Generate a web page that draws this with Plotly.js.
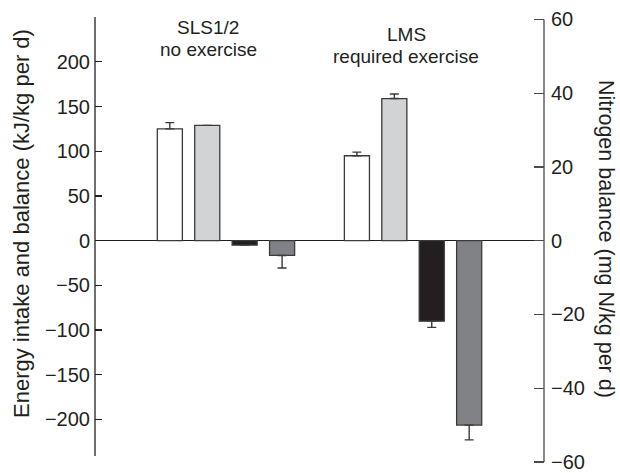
<!DOCTYPE html>
<html>
<head>
<meta charset="utf-8">
<script src="https://cdn.plot.ly/plotly-3.0.1.min.js"></script>
<style>html,body{margin:0;padding:0;background:#fff}</style>
</head>
<body>
<div id="chart" style="width:620px;height:473px"></div>
<script>
// Two study conditions, four bars each; bars sit in unit slots on a hidden x axis
const groupNames = ['SLS1/2', 'LMS'];
const groupNotes = ['no exercise', 'required exercise'];
const groupSlots = [0, 5];

// Energy values, kJ/kg per d (left axis)
const energyIntake = [125, 95];
const energyIntakeErr = [7, 4];
const energyOut = [129, 159];
const energyOutErr = [0, 5];
const energyBalance = [-5, -90];
const energyBalanceErr = [0, 7];

// Nitrogen balance, mg N/kg per d (right axis)
const nitrogenBalance = [-4, -50];
const nitrogenBalanceErr = [3.4, 4];

const leftTicks = [-200, -150, -100, -50, 0, 50, 100, 150, 200];
const rightTicks = [-60, -40, -20, 0, 20, 40, 60];

const ink = '#231f20';
const edge = '#3a3a3a';
const rightInk = '#4a4a4a';
const fmt = v => (v < 0 ? '\u2212' + Math.abs(v) : String(v));

// plot box in page pixels
const W = 620, H = 473, L = 95, R = 544, T = 17, B = 463;
const px = x => (x - L) / (R - L);
const py = y => (B - y) / (B - T);

function barTrace(name, offset, values, errs, color, axis) {
  const up = values.map((v, i) => (v >= 0 ? errs[i] : 0));
  const down = values.map((v, i) => (v < 0 ? errs[i] : 0));
  return {
    type: 'bar',
    name: name,
    x: groupSlots.map(s => s + offset),
    y: values,
    yaxis: axis,
    width: 0.67,
    marker: {color: color, line: {color: edge, width: 1.3}},
    error_y: {
      type: 'data', symmetric: false, array: up, arrayminus: down,
      color: edge, thickness: 1.4, width: 4.5
    },
    hoverinfo: 'skip',
    showlegend: false
  };
}

const data = [
  barTrace('Energy intake', 0, energyIntake, energyIntakeErr, '#ffffff', 'y'),
  barTrace('Energy expenditure', 1, energyOut, energyOutErr, '#d1d3d4', 'y'),
  barTrace('Energy balance', 2, energyBalance, energyBalanceErr, ink, 'y'),
  barTrace('Nitrogen balance', 3, nitrogenBalance, nitrogenBalanceErr, '#808285', 'y2')
];

const family = 'Liberation Sans, Arial, sans-serif';
const labelFont = {family: family, size: 19, color: ink};

// condition headings, two lines each
const annotations = [];
groupNames.forEach((g, i) => {
  const cx = [208, 406][i];
  const cy = [28, 34][i];
  annotations.push({text: g, xref: 'paper', yref: 'paper', x: px(cx), y: py(cy),
    xanchor: 'center', yanchor: 'middle', showarrow: false, font: labelFont});
  annotations.push({text: groupNotes[i], xref: 'paper', yref: 'paper',
    x: px(cx), y: py(cy + 22),
    xanchor: 'center', yanchor: 'middle', showarrow: false, font: labelFont});
});
annotations.push({text: 'Energy intake and balance (kJ/kg per d)', xref: 'paper', yref: 'paper',
  x: px(21), y: py(224), xanchor: 'center', yanchor: 'middle', textangle: -90,
  showarrow: false, font: {family: family, size: 22, color: ink}});
annotations.push({text: 'Nitrogen balance (mg N/kg per d)', xref: 'paper', yref: 'paper',
  x: px(606), y: py(239), xanchor: 'center', yanchor: 'middle', textangle: 90,
  showarrow: false, font: {family: family, size: 21.5, color: ink}});

const layout = {
  width: W, height: H,
  margin: {l: L, r: W - R, t: T, b: H - B, pad: 0},
  paper_bgcolor: '#fff', plot_bgcolor: 'rgba(0,0,0,0)',
  barmode: 'overlay',
  font: labelFont,
  xaxis: {range: [-2, 10], showgrid: false, zeroline: false, showticklabels: false,
          ticks: '', showline: false, fixedrange: true},
  yaxis: {range: [-248.7, 250.2], tickvals: leftTicks, ticktext: leftTicks.map(fmt),
          ticks: 'inside', ticklen: 7, tickwidth: 1.2, tickcolor: ink,
          showgrid: false, showline: false, zeroline: true, zerolinecolor: ink,
          zerolinewidth: 1.3, ticklabelstandoff: 4, tickfont: {family: family, size: 20, color: ink}},
  yaxis2: {overlaying: 'y', side: 'right', range: [-60.28, 60.66],
           tickvals: rightTicks, ticktext: rightTicks.map(fmt),
           ticks: 'inside', ticklen: 10, tickwidth: 1.2, tickcolor: rightInk,
           showgrid: false, showline: false, zeroline: false,
           ticklabelstandoff: 6, tickfont: {family: family, size: 20, color: ink}},
  shapes: [
    // left spine stops a little short of the plot bottom
    {type: 'line', xref: 'paper', yref: 'paper', x0: 0, x1: 0, y0: py(456), y1: 1,
     line: {color: ink, width: 1.3}},
    // right spine runs between its end ticks
    {type: 'line', xref: 'paper', yref: 'y2', x0: 1, x1: 1, y0: -60, y1: 60,
     line: {color: rightInk, width: 1.3}}
  ],
  annotations: annotations
};

Plotly.newPlot('chart', data, layout, {displayModeBar: false, staticPlot: true});
</script>
</body>
</html>
